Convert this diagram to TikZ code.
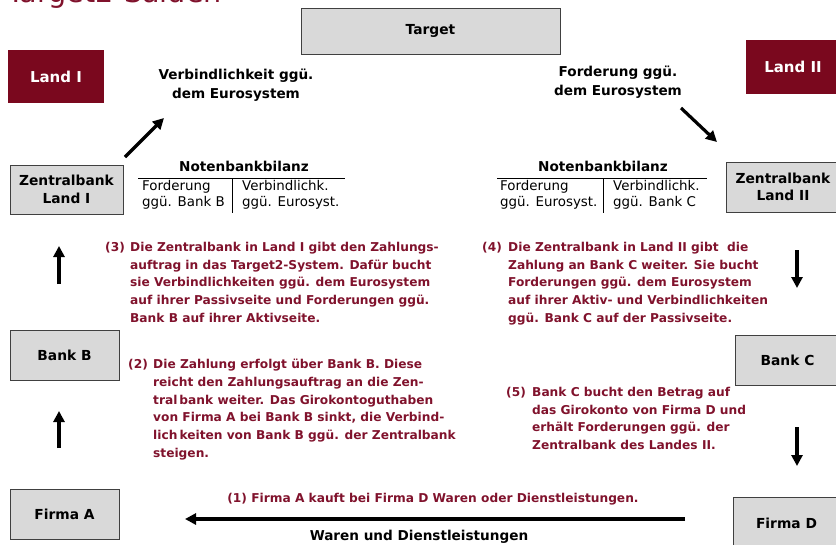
\documentclass[tikz,border=0pt]{standalone}
\usepackage{fontspec}
\setmainfont{DejaVu Sans}
\usetikzlibrary{arrows.meta,positioning}

\definecolor{bordeaux}{RGB}{122,8,30}
\definecolor{weinrot}{RGB}{128,18,44}
\definecolor{kastengrau}{RGB}{217,217,217}

\tikzset{
  kasten/.style={draw=black!75, fill=kastengrau, line width=0.9pt, align=center,
    inner sep=0pt, font=\bfseries\fontsize{13.8}{17.5}\selectfont},
  land/.style={fill=bordeaux, text=white, inner sep=0pt,
    font=\bfseries\fontsize{15}{17}\selectfont},
  pfeil/.style={line width=3.2pt, -{Triangle[length=11pt,width=11pt]}},
  notiz/.style={align=center, inner sep=0pt, font=\bfseries\fontsize{13.6}{18.5}\selectfont},
  bilanz/.style={inner sep=0pt, align=left, anchor=north west,
    font=\fontsize{13.4}{16.5}\selectfont},
  erkl/.style={text=weinrot, inner sep=0pt, align=left, anchor=north west,
    font=\bfseries\fontsize{12.2}{17.7}\selectfont},
  titel/.style={text=weinrot, inner sep=0pt, font=\fontsize{28.6}{30}\selectfont},
}

\begin{document}
\begin{tikzpicture}[x=1pt,y=-1pt]
\useasboundingbox (0,0) rectangle (836,544);

% Titel, oben abgeschnitten
\node[titel, anchor=base west] (titel) at (7,2.5) {Target2-Salden};

% Kaesten
\node[kasten, minimum width=259pt, minimum height=46pt] (target) at (430.5,31) {Target};
\node[land, minimum width=96pt, minimum height=53pt]  (landI)  at (56,76.5)  {Land I};
\node[land, minimum width=94pt, minimum height=54pt]  (landII) at (793,67)   {Land II};
\node[kasten, minimum width=113pt, minimum height=49pt] (zbI)  at (66.5,189.5) {Zentralbank\\Land I};
\node[kasten, minimum width=114pt, minimum height=50pt] (zbII) at (783,187)    {Zentralbank\\Land II};
\node[kasten, minimum width=109pt, minimum height=50pt] (bankB)  at (64.5,355)  {Bank B};
\node[kasten, minimum width=105pt, minimum height=50pt] (bankC)  at (787.5,360) {Bank C};
\node[kasten, minimum width=109pt, minimum height=50pt] (firmaA) at (64.5,514)  {Firma A};
\node[kasten, minimum width=107pt, minimum height=53pt] (firmaD) at (786.5,523.5) {Firma D};

% Salden gegenueber dem Eurosystem
\node[notiz] (verbindl) at (236,85) {Verbindlichkeit ggü.\\dem Eurosystem};
\node[notiz] (forder)   at (618,82) {Forderung ggü.\\dem Eurosystem};

% Notenbankbilanz Land I
\node[notiz] (nbI) at (244,166) {Notenbankbilanz};
\coordinate (nbIl) at (138,178);
\coordinate (nbIr) at (345,178);
\coordinate (nbIo) at (232,178);
\coordinate (nbIu) at (232,213);
\draw[line width=0.8pt] (nbIl) -- (nbIr);
\draw[line width=0.8pt] (nbIo) -- (nbIu);
\node[bilanz] (aktivI)  at (142,180) {Forderung\\ggü. Bank B};
\node[bilanz] (passivI) at (242,180) {Verbindlichk.\\ggü. Eurosyst.};

% Notenbankbilanz Land II
\node[notiz] (nbII) at (603,166) {Notenbankbilanz};
\coordinate (nbIIl) at (497,178);
\coordinate (nbIIr) at (707,178);
\coordinate (nbIIo) at (603,178);
\coordinate (nbIIu) at (603,213);
\draw[line width=0.8pt] (nbIIl) -- (nbIIr);
\draw[line width=0.8pt] (nbIIo) -- (nbIIu);
\node[bilanz] (aktivII)  at (500,180) {Forderung\\ggü. Eurosyst.};
\node[bilanz] (passivII) at (613,180) {Verbindlichk.\\ggü. Bank C};

% Pfeile
\coordinate (p1a) at (125,157);  \coordinate (p1b) at (164,118);
\coordinate (p2a) at (681,108);  \coordinate (p2b) at (717,142);
\coordinate (p3a) at (59,284);   \coordinate (p3b) at (59,246);
\coordinate (p4a) at (59,448);   \coordinate (p4b) at (59,411);
\coordinate (p5a) at (797,250);  \coordinate (p5b) at (797,288);
\coordinate (p6a) at (797,427);  \coordinate (p6b) at (797,466);
\coordinate (p7a) at (685,519);  \coordinate (p7b) at (185,519);
\draw[pfeil] (p1a) -- (p1b);
\draw[pfeil] (p2a) -- (p2b);
\draw[pfeil] (p3a) -- (p3b);
\draw[pfeil] (p4a) -- (p4b);
\draw[pfeil] (p5a) -- (p5b);
\draw[pfeil] (p6a) -- (p6b);
\draw[pfeil] (p7a) -- (p7b);

% Erklaerungen
\node[erkl, text=weinrot, anchor=base] (schritt1) at (433,502)
  {(1) Firma A kauft bei Firma D Waren oder Dienstleistungen.};
\node[notiz, anchor=base] (waren) at (419,540) {Waren und Dienstleistungen};

\node[erkl] (nr2) at (128,359) {(2)};
\node[erkl] (schritt2) at (153,359) {Die Zahlung erfolgt über Bank B. Diese\\
  reicht den Zahlungsauftrag an die Zen-\\tral\,bank weiter. Das Girokontoguthaben\\
  von Firma A bei Bank B sinkt, die Verbind-\\lich\,keiten von Bank B ggü. der Zentralbank\\steigen.};

\node[erkl] (nr3) at (105,242) {(3)};
\node[erkl] (schritt3) at (130,242) {Die Zentralbank in Land I gibt den Zahlungs-\\
  auftrag in das Target2-System. Dafür bucht\\sie Verbindlichkeiten ggü. dem Eurosystem\\
  auf ihrer Passivseite und Forderungen ggü.\\Bank B auf ihrer Aktivseite.};

\node[erkl] (nr4) at (482,242) {(4)};
\node[erkl] (schritt4) at (508,242) {Die Zentralbank in Land II gibt \ die\\
  Zahlung an Bank C weiter. Sie bucht\\Forderungen ggü. dem Eurosystem\\
  auf ihrer Aktiv- und Verbindlichkeiten\\ggü. Bank C auf der Passivseite.};

\node[erkl] (nr5) at (506,387) {(5)};
\node[erkl] (schritt5) at (532,387) {Bank C bucht den Betrag auf\\
  das Girokonto von Firma D und\\erhält Forderungen ggü. der\\Zentralbank des Landes II.};
\end{tikzpicture}
\end{document}
